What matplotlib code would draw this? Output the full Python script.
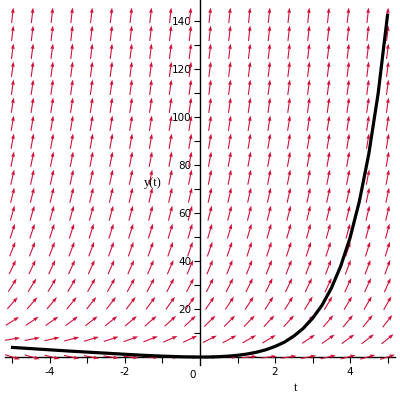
'''Direction field of y' = y + t with the solution curve through y(0) = 0.'''
# pylint: disable=invalid-name
import matplotlib
matplotlib.use('Agg')
import matplotlib.pyplot as plt
import numpy as np

ARROW_COLOR = '#d0103a'

# solution curve
CURVE_T = [-5, -4.5, -4, -3.5, -3, -2.5, -2, -1.5, -1, -0.5, 0, 0.25, 0.5,
           0.75, 1, 1.25, 1.5, 1.75, 2, 2.25, 2.5, 2.75, 3, 3.25, 3.5,
           3.75, 4, 4.25, 4.5, 4.75, 5]
CURVE_Y = [4.0, 3.5, 3.0, 2.5, 2.05, 1.6, 1.15, 0.72, 0.37, 0.11, 0.0, 0.03,
           0.15, 0.37, 0.72, 1.24, 1.98, 3.0, 4.4, 6.2, 8.7, 11.9, 16.1,
           21.5, 28.6, 37.8, 49.6, 64.9, 84.5, 109.8, 142.4]

# direction field grid (20 x 20 arrows over the curve's range)
FIELD_T_RANGE = (-5, 5)
FIELD_Y_RANGE = (0, 142.4)
FIELD_N = 20

X_TICKS = [-4, -2, 2, 4]
X_MINOR = [-5, -3, -1, 1, 3, 5]
Y_TICKS = [20, 40, 60, 80, 100, 120, 140]
Y_MINOR = [10, 30, 50, 70, 90, 110, 130]

XLIM = (-5.333, 5.333)
YLIM = (-17.9, 148.75)


def slope(t, y):
    '''Right-hand side of the ODE y' = y + t.'''
    return y + t


def main():
    '''Main.'''
    plt.rcParams['axes.unicode_minus'] = False
    fig = plt.figure(figsize=(4, 4), dpi=100)
    ax = fig.add_axes([0, 0, 1, 1])
    ax.set_xlim(*XLIM)
    ax.set_ylim(*YLIM)

    # pixels per data unit, to draw arrows with the right on-screen angle
    px_x = 400 / (XLIM[1] - XLIM[0])
    px_y = 400 / (YLIM[1] - YLIM[0])

    tt, yy = np.meshgrid(np.linspace(*FIELD_T_RANGE, FIELD_N),
                         np.linspace(*FIELD_Y_RANGE, FIELD_N))
    u = np.full_like(tt, px_x)
    v = slope(tt, yy) * px_y
    norm = np.hypot(u, v)
    ax.quiver(tt, yy, u / norm, v / norm, angles='uv', pivot='mid',
              scale_units='inches', scale=1 / 0.155, width=1.1,
              units='dots', headwidth=3.5, headlength=5, headaxislength=4.5,
              color=ARROW_COLOR, zorder=2)

    ax.plot(CURVE_T, CURVE_Y, color='black', linewidth=2.3, zorder=3,
            solid_joinstyle='round')

    # axes through the origin
    for side in ('top', 'right'):
        ax.spines[side].set_visible(False)
    ax.spines['left'].set_position(('data', 0))
    ax.spines['bottom'].set_position(('data', 0))
    ax.spines['left'].set_bounds(-3.3, YLIM[1])
    ax.spines['bottom'].set_bounds(-5.2, 5.2)
    for side in ('left', 'bottom'):
        ax.spines[side].set_linewidth(1.0)
        ax.spines[side].set_zorder(1)

    ax.set_xticks(X_TICKS)
    ax.set_xticks(X_MINOR, minor=True)
    ax.set_yticks(Y_TICKS)
    ax.set_yticks(Y_MINOR, minor=True)
    ax.tick_params(which='both', direction='out', length=4.5, width=0.8,
                   labelsize=7.5, pad=2)
    ax.tick_params(axis='x', pad=3)
    ax.tick_params(axis='y', pad=1.5)

    ax.text(-0.1, -5.3, '0', fontsize=7.5, ha='right', va='top')
    ax.text(-1.25, 72.5, 'y(t)', family='Liberation Serif', fontsize=9,
            ha='center', va='center')
    ax.text(2.56, -12.9, 't', family='Liberation Serif', fontsize=9,
            ha='center', va='center')

    fig.savefig('out.png', dpi=100)


if __name__ == '__main__':
    main()
